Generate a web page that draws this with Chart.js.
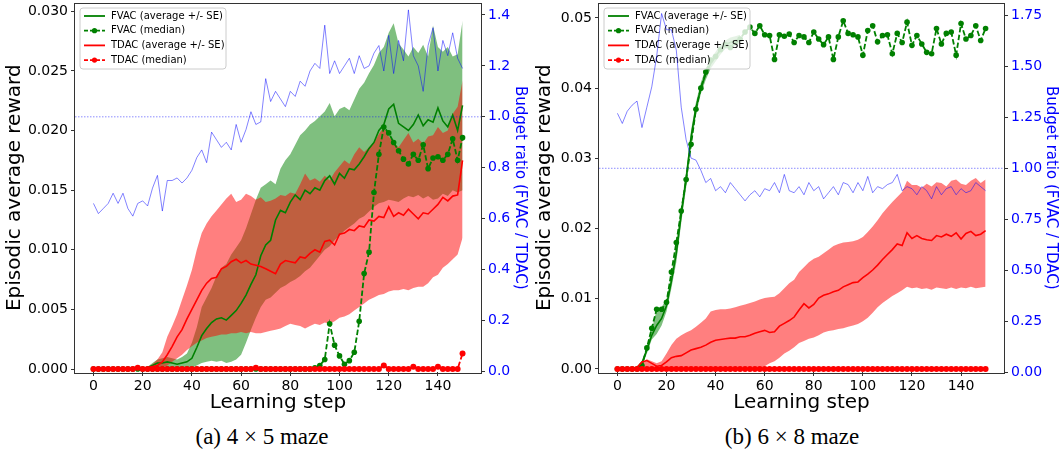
<!DOCTYPE html>
<html>
<head>
<meta charset="utf-8">
<script src="https://cdn.jsdelivr.net/npm/chart.js@4.4.1/dist/chart.umd.min.js"></script>
<style>
  body { margin: 0; background: #fff; }
  #wrap { position: relative; width: 1060px; height: 454px; overflow: hidden; background: #fff; }
  .panel { position: absolute; top: 0; width: 530px; height: 420px; }
  .caption { position: absolute; top: 426px; width: 530px; text-align: center;
             font-family: "Liberation Serif", serif; font-size: 23px; line-height: 22px; color: #000; }
</style>
</head>
<body>
<div id="wrap">
  <div class="panel" style="left:0"><canvas id="chartA" width="530" height="420"></canvas></div>
  <div class="panel" style="left:530px"><canvas id="chartB" width="530" height="420"></canvas></div>
  <div class="caption" style="left:-3px">(a) 4 × 5 maze</div>
  <div class="caption" style="left:527px">(b) 6 × 8 maze</div>
</div>
<script>
// learning steps (every 2nd step, 0..150)
const steps = Array.from({ length: 76 }, (_, i) => i * 2);

const xTicks = [0, 20, 40, 60, 80, 100, 120, 140];
const rewardTicksA = [0, 0.005, 0.01, 0.015, 0.02, 0.025, 0.03];
const ratioTicksA = [0, 0.2, 0.4, 0.6, 0.8, 1.0, 1.2, 1.4];
const rewardTicksB = [0, 0.01, 0.02, 0.03, 0.04, 0.05];
const ratioTicksB = [0, 0.25, 0.5, 0.75, 1.0, 1.25, 1.5, 1.75];
const ratioRef = 1.0;

// ---- (a) 4 x 5 maze ----
const fvacMeanA = [
  0, 0, 0, 0, 0, 0, 0, 0, 0, 0,
  0, .0001, .0003, .0005, .0005, .0006, .0005, .0004, .0005, .0006,
  .0009, .0018, .0028, .0034, .0039, .0042, .0043, .0041, .0045, .0049,
  .0055, .0062, .0071, .0079, .0095, .0104, .0108, .0125, .0133, .0131,
  .0140, .0146, .0142, .0150, .0147, .0152, .0150, .0158, .0162, .0155,
  .0164, .0160, .0168, .0167, .0172, .0178, .0185, .0190, .0200, .0205,
  .0218, .0222, .0206, .0203, .0200, .0205, .0213, .0204, .0209, .0207,
  .0219, .0208, .0203, .0213, .0200, .0221
];
const fvacHiA = [
  0, 0, 0, 0, 0, 0, 0, 0, 0, 0,
  0, .0002, .0005, .0008, .0009, .0010, .0009, .0008, .0010, .0013,
  .0022, .0035, .0052, .0060, .0068, .0078, .0085, .0088, .0096, .0102,
  .0108, .0118, .0130, .0142, .0152, .0155, .0158, .0155, .0168, .0175,
  .0180, .0188, .0196, .0200, .0205, .0208, .0212, .0216, .0223, .0212,
  .0218, .0220, .0217, .0226, .0235, .0240, .0248, .0255, .0265, .0270,
  .0282, .0290, .0273, .0268, .0262, .0270, .0265, .0272, .0262, .0288,
  .0270, .0266, .0270, .0262, .0264, .0292
];
const fvacLoA = [
  0, 0, 0, 0, 0, 0, 0, 0, 0, 0,
  0, 0, .0001, .0002, .0002, .0002, .0001, .0001, .0001, .0001,
  .0001, .0003, .0005, .0006, .0007, .0006, .0007, .0005, .0006, .0008,
  .0012, .0022, .0033, .0043, .0052, .0058, .0060, .0064, .0068, .0070,
  .0073, .0075, .0078, .0082, .0085, .0090, .0095, .0100, .0103, .0108,
  .0112, .0116, .0119, .0122, .0126, .0128, .0132, .0136, .0139, .0140,
  .0142, .0141, .0140, .0143, .0145, .0144, .0146, .0143, .0145, .0142,
  .0143, .0147, .0145, .0150, .0148, .0150
];
const fvacMedA = [
  0, 0, 0, 0, 0, 0, 0, 0, 0, 0,
  0, 0, 0, 0, 0, 0, 0, 0, 0, 0,
  0, 0, 0, 0, 0, 0, 0, 0, 0, 0,
  0, 0, 0, 0, 0, 0, 0, 0, 0, 0,
  0, 0, 0, 0, 0, .0001, .0003, .0008, .0038, .0020,
  .0011, .0004, .0007, .0014, .0040, .0080, .0098, .0148, .0180, .0203,
  .0198, .0190, .0183, .0176, .0172, .0180, .0175, .0188, .0168, .0177,
  .0178, .0175, .0180, .0193, .0175, .0194
];
const tdacMeanA = [
  0, 0, 0, 0, 0, 0, 0, 0, 0, 0,
  0, .0001, .0002, .0003, .0006, .0012, .0019, .0027, .0033, .0042,
  .0050, .0058, .0066, .0072, .0076, .0077, .0084, .0086, .0090, .0092,
  .0089, .0091, .0088, .0087, .0086, .0084, .0082, .0080, .0088, .0091,
  .0090, .0089, .0094, .0093, .0097, .0100, .0098, .0107, .0108, .0104,
  .0113, .0114, .0117, .0116, .0120, .0119, .0125, .0124, .0128, .0127,
  .0136, .0128, .0131, .0129, .0134, .0130, .0126, .0131, .0130, .0134,
  .0138, .0144, .0141, .0145, .0146, .0175
];
const tdacHiA = [
  0, 0, 0, 0, 0, 0, 0, 0, 0, 0,
  0, .0002, .0004, .0008, .0014, .0027, .0036, .0046, .0058, .0070,
  .0083, .0100, .0114, .0122, .0128, .0133, .0138, .0143, .0147, .0140,
  .0142, .0147, .0145, .0142, .0144, .0140, .0141, .0143, .0146, .0145,
  .0148, .0147, .0155, .0164, .0158, .0160, .0157, .0162, .0158, .0165,
  .0170, .0175, .0172, .0180, .0186, .0182, .0186, .0190, .0197, .0203,
  .0195, .0190, .0186, .0192, .0198, .0190, .0193, .0189, .0195, .0196,
  .0203, .0198, .0200, .0214, .0220, .0242
];
const tdacLoA = [
  0, 0, 0, 0, 0, 0, 0, 0, 0, 0,
  0, 0, 0, 0, .0001, .0003, .0006, .0009, .0012, .0016,
  .0019, .0022, .0024, .0026, .0027, .0028, .0029, .0029, .0030, .0030,
  .0031, .0030, .0031, .0030, .0030, .0031, .0032, .0033, .0034, .0036,
  .0038, .0037, .0036, .0034, .0036, .0038, .0037, .0039, .0038, .0040,
  .0043, .0044, .0046, .0049, .0052, .0055, .0058, .0060, .0062, .0063,
  .0065, .0066, .0066, .0067, .0066, .0068, .0069, .0069, .0072, .0077,
  .0079, .0085, .0088, .0092, .0096, .0110
];
const tdacMedA = [
  0, 0, 0, 0, 0, 0, 0, 0, 0, .0001,
  0, 0, 0, 0, 0, 0, 0, 0, 0, 0,
  0, 0, 0, 0, 0, 0, 0, 0, 0, 0,
  0, 0, 0, .0001, 0, 0, 0, 0, 0, 0,
  0, 0, 0, 0, 0, 0, 0, 0, 0, 0,
  0, 0, 0, 0, 0, 0, 0, 0, 0, .0003,
  0, 0, 0, 0, 0, .0002, 0, 0, 0, 0,
  .0002, 0, 0, 0, 0, .0013
];
const budgetA = [
  .66, .62, .64, .66, .70, .66, .70, .64, .61, .66,
  .67, .65, .72, .77, .63, .75, .75, .76, .74, .76,
  .79, .84, .87, .82, .94, .91, .88, .90, .87, .97,
  .90, .95, 1.02, .97, .98, 1.15, 1.06, 1.10, 1.07, 1.04,
  1.10, 1.08, 1.14, 1.12, 1.18, 1.21, 1.19, 1.36, 1.17, 1.22,
  1.17, 1.20, 1.23, 1.17, 1.24, 1.19, 1.20, 1.25, 1.28, 1.18,
  1.32, 1.17, 1.30, 1.22, 1.42, 1.24, 1.20, 1.10, 1.28, 1.35,
  1.18, 1.30, 1.24, 1.33, 1.23, 1.19
];

// ---- (b) 6 x 8 maze ----
const fvacMeanB = [
  0, 0, 0, 0, .0002, .0008, .0027, .0048, .0062, .0072,
  .0090, .0125, .0165, .0220, .0270, .0330, .0372, .0400, .0420, .0435,
  .0445, .0455, .0462, .0465, .0468, .0470
];
const fvacHiB = [
  0, 0, 0, 0, .0004, .0012, .0032, .0056, .0085, .0088,
  .0100, .0135, .0180, .0232, .0282, .0340, .0380, .0408, .0428, .0442,
  .0452, .0462, .0468, .0472, .0474, .0476
];
const fvacLoB = [
  0, 0, 0, 0, 0, .0004, .0022, .0042, .0050, .0062,
  .0082, .0115, .0152, .0208, .0258, .0318, .0362, .0392, .0412, .0428,
  .0438, .0448, .0456, .0458, .0462, .0464
];
const fvacMedB = [
  0, 0, 0, 0, 0, .0005, .0030, .0058, .0085, .0085,
  .0095, .0138, .0180, .0225, .0270, .0320, .0370, .0400, .0423, .0440,
  .0445, .0455, .0462, .0458, .0465, .0470, .0480, .0487, .0478, .0489,
  .0476, .0475, .0441, .0476, .0474, .0477, .0465, .0475, .0473, .0465,
  .0480, .0470, .0462, .0473, .0441, .0473, .0496, .0478, .0476, .0473,
  .0447, .0482, .0489, .0466, .0475, .0476, .0449, .0478, .0465, .0494,
  .0461, .0475, .0463, .0451, .0449, .0485, .0463, .0478, .0480, .0447,
  .0492, .0470, .0475, .0489, .0468, .0485
];
const tdacMeanB = [
  0, 0, 0, 0, .0002, .0010, .0012, .0008, .0004, .0005,
  .0010, .0016, .0018, .0019, .0023, .0027, .0029, .0031, .0034, .0038,
  .0041, .0042, .0043, .0044, .0044, .0046, .0046, .0048, .0051, .0053,
  .0055, .0052, .0053, .0061, .0065, .0069, .0074, .0084, .0093, .0087,
  .0092, .0101, .0105, .0107, .0110, .0112, .0117, .0120, .0123, .0124,
  .0130, .0135, .0141, .0148, .0156, .0163, .0170, .0178, .0176, .0194,
  .0186, .0190, .0186, .0184, .0183, .0190, .0188, .0192, .0189, .0194,
  .0185, .0193, .0196, .0190, .0192, .0197
];
const tdacHiB = [
  0, 0, 0, 0, .0004, .0009, .0014, .0011, .0008, .0011,
  .0022, .0034, .0043, .0048, .0052, .0055, .0060, .0066, .0072, .0082,
  .0084, .0085, .0085, .0086, .0088, .0090, .0092, .0094, .0096, .0099,
  .0101, .0102, .0103, .0108, .0115, .0122, .0127, .0138, .0145, .0152,
  .0157, .0160, .0165, .0170, .0175, .0178, .0180, .0181, .0182, .0184,
  .0188, .0195, .0203, .0212, .0222, .0230, .0238, .0245, .0252, .0268,
  .0262, .0262, .0258, .0264, .0260, .0266, .0265, .0260, .0268, .0270,
  .0264, .0262, .0268, .0272, .0265, .0270
];
const tdacLoB = [
  0, 0, 0, 0, 0, 0, 0, 0, 0, 0,
  0, 0, 0, 0, 0, 0, 0, 0, 0, 0,
  0, 0, 0, 0, 0, 0, 0, 0, 0, .0001,
  .0004, .0008, .0011, .0016, .0022, .0026, .0031, .0037, .0040, .0043,
  .0045, .0048, .0052, .0054, .0055, .0057, .0058, .0060, .0062, .0064,
  .0068, .0073, .0080, .0088, .0094, .0099, .0104, .0108, .0112, .0117,
  .0115, .0116, .0114, .0115, .0113, .0116, .0115, .0114, .0116, .0114,
  .0116, .0115, .0117, .0115, .0116, .0117
];
const tdacMedB = [
  0, 0, 0, 0, 0, 0, 0, 0, 0, 0,
  0, 0, 0, 0, 0, 0, 0, 0, 0, 0,
  0, 0, 0, 0, 0, 0, 0, 0, 0, 0,
  0, 0, 0, 0, 0, 0, 0, 0, 0, 0,
  0, 0, 0, 0, 0, 0, 0, 0, 0, 0,
  0, 0, 0, 0, 0, 0, 0, 0, 0, 0,
  0, 0, 0, 0, 0, 0, 0, 0, 0, 0,
  0, 0, 0, 0, 0, 0
];
const budgetB = [
  1.27, 1.22, 1.28, 1.31, 1.33, 1.20, 1.30, 1.40, 1.55, 1.76,
  1.68, 1.68, 1.58, 1.30, 1.14, 1.05, 1.04, .99, .93, .95,
  .89, .91, .88, .93, .90, .87, .84, .87, .89, .86,
  .90, .89, .93, .88, .97, .89, .88, .91, .87, .93,
  .89, .91, .85, .88, .91, .87, .93, .92, .88, .93,
  .89, .96, .88, .91, .90, .92, .93, .97, .89, .91,
  .90, .87, .91, .89, .85, .91, .87, .90, .91, .87,
  .90, .88, .89, .93, .91, .89
];

const GREEN = '#008000';
const RED = '#ff0000';
const BLUE = '#0000ff';
const X_MIN = -7.5, X_MAX = 157.5;

Chart.defaults.font.family = '"DejaVu Sans", sans-serif';
Chart.defaults.color = '#000';

const legendItems = [
  { label: 'FVAC (average +/- SE)', color: GREEN, dashed: false },
  { label: 'FVAC (median)', color: GREEN, dashed: true },
  { label: 'TDAC (average +/- SE)', color: RED, dashed: false },
  { label: 'TDAC (median)', color: RED, dashed: true }
];

function roundRectPath(ctx, x, y, w, h, r) {
  ctx.beginPath();
  ctx.moveTo(x + r, y);
  ctx.arcTo(x + w, y, x + w, y + h, r);
  ctx.arcTo(x + w, y + h, x, y + h, r);
  ctx.arcTo(x, y + h, x, y, r);
  ctx.arcTo(x, y, x + w, y, r);
  ctx.closePath();
}

function drawLegend(chart) {
  const ctx = chart.ctx, a = chart.chartArea;
  const x = a.left + 5, y = a.top + 4.5, w = 146, h = 61;
  ctx.save();
  roundRectPath(ctx, x, y, w, h, 3);
  ctx.fillStyle = 'rgba(255,255,255,0.8)';
  ctx.fill();
  ctx.strokeStyle = '#cccccc';
  ctx.lineWidth = 1;
  ctx.stroke();
  ctx.font = '10px "DejaVu Sans"';
  ctx.textBaseline = 'middle';
  legendItems.forEach((it, i) => {
    const ly = y + 8 + i * 14.7;
    ctx.strokeStyle = it.color;
    ctx.lineWidth = 1.8;
    ctx.setLineDash(it.dashed ? [4, 2] : []);
    ctx.beginPath();
    ctx.moveTo(x + 4, ly);
    ctx.lineTo(x + 25, ly);
    ctx.stroke();
    ctx.setLineDash([]);
    if (it.dashed) {
      ctx.fillStyle = it.color;
      ctx.beginPath();
      ctx.arc(x + 14.5, ly, 2.6, 0, Math.PI * 2);
      ctx.fill();
    }
    ctx.fillStyle = '#000';
    ctx.fillText(it.label, x + 31, ly);
  });
  ctx.restore();
}

// frame on all four sides + legend drawn between the reward data and the ratio data
const framePlugin = {
  id: 'frameAndLegend',
  beforeDatasetsDraw(chart) { chart.$legendDone = false; },
  beforeDatasetDraw(chart, args) {
    if (!chart.$legendDone && args.meta.yAxisID === 'y2') {
      drawLegend(chart);
      chart.$legendDone = true;
    }
  },
  afterDraw(chart) {
    const a = chart.chartArea, ctx = chart.ctx;
    ctx.save();
    ctx.strokeStyle = '#333';
    ctx.lineWidth = 1;
    ctx.strokeRect(Math.round(a.left) - 0.5, Math.round(a.top) - 0.5,
      Math.round(a.right - a.left) + 1, Math.round(a.bottom - a.top) + 1);
    ctx.restore();
  }
};

function makeChart(id, d) {
  const pts = arr => arr.map((v, i) => ({ x: steps[i], y: v }));
  const noPts = { pointRadius: 0, pointHoverRadius: 0 };
  const datasets = [
    { data: pts(d.fvacHi), fill: '+1', backgroundColor: 'rgba(0,128,0,0.5)', borderColor: 'transparent', borderWidth: 0, order: 9, ...noPts },
    { data: pts(d.fvacLo), fill: false, borderColor: 'transparent', borderWidth: 0, order: 9, ...noPts },
    { data: pts(d.tdacHi), fill: '+1', backgroundColor: 'rgba(255,0,0,0.5)', borderColor: 'transparent', borderWidth: 0, order: 8, ...noPts },
    { data: pts(d.tdacLo), fill: false, borderColor: 'transparent', borderWidth: 0, order: 8, ...noPts },
    { data: pts(d.fvacMean), borderColor: GREEN, borderWidth: 1.6, order: 7, ...noPts },
    { data: pts(d.fvacMed), borderColor: GREEN, borderWidth: 1.8, borderDash: [5.5, 2.4],
      pointRadius: 2.8, pointHoverRadius: 0, pointBackgroundColor: GREEN, pointBorderWidth: 0, order: 6, clip: false },
    { data: pts(d.tdacMean), borderColor: RED, borderWidth: 1.6, order: 5, ...noPts },
    { data: pts(d.tdacMed), borderColor: RED, borderWidth: 1.8, borderDash: [5.5, 2.4],
      pointRadius: 3, pointHoverRadius: 0, pointBackgroundColor: RED, pointBorderWidth: 0, order: 4, clip: false },
    { data: [{ x: X_MIN, y: ratioRef }, { x: X_MAX, y: ratioRef }], yAxisID: 'y2',
      borderColor: 'rgba(0,0,255,0.45)', borderWidth: 1, borderDash: [1.5, 1.5], order: 2, ...noPts },
    { data: pts(d.budget), yAxisID: 'y2', borderColor: 'rgba(0,0,255,0.55)', borderWidth: 0.9, order: 1, ...noPts }
  ];
  datasets.forEach(ds => { if (!ds.yAxisID) ds.yAxisID = 'y'; });

  return new Chart(document.getElementById(id), {
    type: 'line',
    data: { datasets },
    plugins: [framePlugin],
    options: {
      responsive: false,
      animation: false,
      devicePixelRatio: 1,
      events: [],
      layout: { padding: { top: 3.5, left: 0, right: 0, bottom: 0 } },
      plugins: { legend: { display: false }, tooltip: { enabled: false } },
      scales: {
        x: {
          type: 'linear', min: X_MIN, max: X_MAX,
          afterBuildTicks: s => { s.ticks = xTicks.map(v => ({ value: v })); },
          afterFit: s => { s.height = 48; s.paddingLeft = 0; s.paddingRight = 0; },
          grid: { drawOnChartArea: false, tickLength: 4, color: '#333' },
          border: { display: false },
          ticks: { font: { size: 14 }, color: '#000', padding: 2, maxRotation: 0, autoSkip: false,
                   callback: v => String(v) },
          title: { display: true, text: 'Learning step', font: { size: 20 }, color: '#000',
                   padding: { top: 0, bottom: 5 } }
        },
        y: {
          position: 'left', min: d.yMin, max: d.yMax,
          afterBuildTicks: s => { s.ticks = d.yTicks.map(v => ({ value: v })); },
          afterFit: s => { s.width = d.leftW; s.paddingTop = 0; s.paddingBottom = 0; },
          grid: { drawOnChartArea: false, tickLength: 4, color: '#333' },
          border: { display: false },
          ticks: { font: { size: 14 }, color: '#000', padding: 3, autoSkip: false,
                   callback: v => v.toFixed(d.yDigits) },
          title: { display: true, text: 'Episodic average reward', font: { size: 20 }, color: '#000',
                   padding: { top: 3, bottom: 0 } }
        },
        y2: {
          position: 'right', min: d.y2Min, max: d.y2Max,
          afterBuildTicks: s => { s.ticks = d.y2Ticks.map(v => ({ value: v })); },
          afterFit: s => { s.width = d.rightW; s.paddingTop = 0; s.paddingBottom = 0; },
          grid: { drawOnChartArea: false, tickLength: 4, color: '#333' },
          border: { display: false },
          ticks: { font: { size: 14 }, color: BLUE, padding: 3, autoSkip: false,
                   callback: v => v.toFixed(d.y2Digits) },
          title: { display: true, text: 'Budget ratio (FVAC / TDAC)', font: { size: 15 }, color: BLUE,
                   padding: { top: d.rightTitlePad, bottom: 0 } }
        }
      }
    }
  });
}

makeChart('chartA', {
  fvacMean: fvacMeanA, fvacHi: fvacHiA, fvacLo: fvacLoA, fvacMed: fvacMedA,
  tdacMean: tdacMeanA, tdacHi: tdacHiA, tdacLo: tdacLoA, tdacMed: tdacMedA,
  budget: budgetA,
  yMin: -0.00025, yMax: 0.03065, yTicks: rewardTicksA, yDigits: 3,
  y2Min: -0.002, y2Max: 1.445, y2Ticks: ratioTicksA, y2Digits: 1,
  leftW: 75, rightW: 49, rightTitlePad: 1
});

makeChart('chartB', {
  fvacMean: fvacMeanB, fvacHi: fvacHiB, fvacLo: fvacLoB, fvacMed: fvacMedB,
  tdacMean: tdacMeanB, tdacHi: tdacHiB, tdacLo: tdacLoB, tdacMed: tdacMedB,
  budget: budgetB,
  yMin: -0.00043, yMax: 0.05206, yTicks: rewardTicksB, yDigits: 2,
  y2Min: 0, y2Max: 1.809, y2Ticks: ratioTicksB, y2Digits: 2,
  leftW: 69, rightW: 56, rightTitlePad: 0
});
</script>
</body>
</html>
